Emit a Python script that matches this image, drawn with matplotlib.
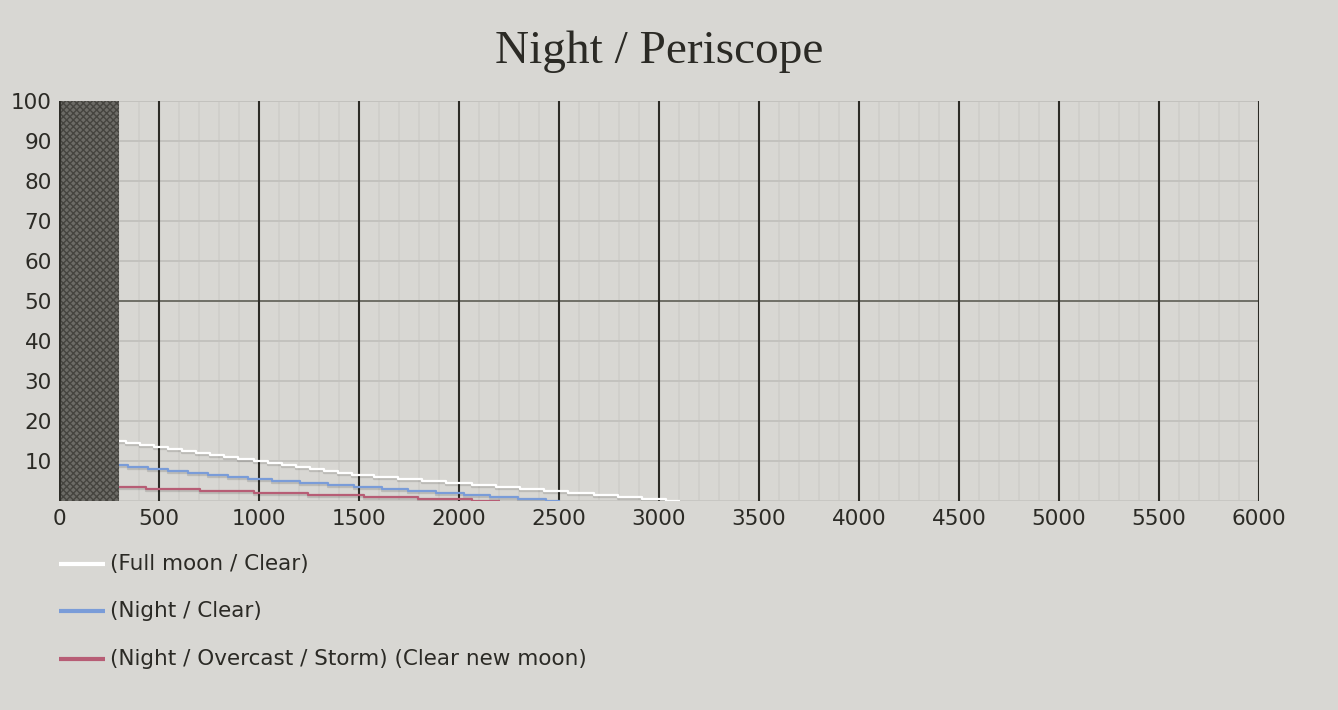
import numpy as np
import matplotlib
matplotlib.use("Agg")
import matplotlib.pyplot as plt
import matplotlib.patheffects as pe
from matplotlib.lines import Line2D
from matplotlib.patches import Rectangle

# ---- data ----
title = "Night / Periscope"
series_names = ["(Full moon / Clear)", "(Night / Clear)",
                "(Night / Overcast / Storm) (Clear new moon)"]
series_colors = ["#ffffff", "#7a9cd8", "#b75d75"]

full_x = [300, 335, 405, 475, 545, 615, 685, 755, 825, 895, 975, 1045, 1115,
          1185, 1255, 1325, 1395, 1465, 1575, 1695, 1815, 1935, 2065, 2185,
          2305, 2425, 2545, 2675, 2795, 2915, 3035, 3105]
full_y = [15, 14.5, 14, 13.5, 13, 12.5, 12, 11.5, 11, 10.5, 10, 9.5, 9, 8.5,
          8, 7.5, 7, 6.5, 6, 5.5, 5, 4.5, 4, 3.5, 3, 2.5, 2, 1.5, 1, 0.5, 0, 0]

night_x = [300, 345, 445, 545, 645, 745, 845, 945, 1065, 1205, 1345, 1475,
           1615, 1745, 1885, 2025, 2155, 2295, 2435, 2505]
night_y = [9, 8.5, 8, 7.5, 7, 6.5, 6, 5.5, 5, 4.5, 4, 3.5, 3, 2.5, 2, 1.5,
           1, 0.5, 0, 0]

storm_x = [300, 435, 705, 975, 1245, 1525, 1795, 2065, 2205]
storm_y = [3.5, 3, 2.5, 2, 1.5, 1, 0.5, 0, 0]

dead_zone = [0, 300]          # hatched minimum-range region
x_ticks = list(range(0, 6001, 500))
y_ticks = list(range(10, 101, 10))

# ---- style ----
BG = "#d8d7d3"
DARK = "#2b2a25"
W, H = 1338, 710

fig = plt.figure(figsize=(W / 100, H / 100), dpi=100, facecolor=BG)
ax = fig.add_axes([59 / W, (H - 501) / H, 1200 / W, 400 / H])
ax.set_facecolor(BG)
ax.set_xlim(0, 6000)
ax.set_ylim(0, 100)

# grid
for x in range(0, 6001, 100):
    if x % 500:
        ax.axvline(x, color="#d0cfcb", lw=1.4, zorder=1)
for y in range(10, 101, 10):
    if y != 50:
        ax.axhline(y, color="#c3c2be", lw=1.4, zorder=1)
ax.axhline(0, color="#c8c7c3", lw=1.4, zorder=1)
ax.axhline(50, color="#6f6f67", lw=1.4, zorder=2)
for x in x_ticks:
    if x > 0:
        ax.axvline(x, color=DARK, lw=1.5, zorder=2)

# dead zone (checker texture approximated by its mean tone + fine hatch)
ax.add_patch(Rectangle((dead_zone[0], 0), dead_zone[1] - dead_zone[0], 100,
                       facecolor="#6c6b66", edgecolor="#45443f", hatch="xxxxx",
                       lw=0, zorder=3))
ax.axvline(0, color=DARK, lw=2, zorder=4)

shadow = [pe.SimpleLineShadow(offset=(0, -1.4), shadow_color="black",
                              alpha=0.13), pe.Normal()]
for xs, ys, c in [(full_x, full_y, series_colors[0]),
                  (night_x, night_y, series_colors[1]),
                  (storm_x, storm_y, series_colors[2])]:
    ax.plot(xs, ys, drawstyle="steps-post", color=c, lw=1.6,
            solid_capstyle="butt", path_effects=shadow, zorder=5)

for s in ax.spines.values():
    s.set_visible(False)
ax.set_xticks(x_ticks)
ax.set_yticks(y_ticks)
ax.tick_params(length=0, labelsize=15.5, labelcolor=DARK, pad=6)
ax.tick_params(axis="y", pad=5)

# title
fig.text(659 / W, 1 - 63 / H, title, family="Liberation Serif", fontsize=34,
         color=DARK, ha="center", va="baseline")

# legend
rows = [564, 611, 659]
for name, c, ry in zip(series_names, series_colors, rows):
    yy = 1 - ry / H
    fig.add_artist(Line2D([59 / W, 105 / W], [yy, yy], color=c, lw=3,
                          solid_capstyle="butt"))
    fig.text(110 / W, yy, name, fontsize=15.5, color=DARK, ha="left",
             va="center")

fig.savefig("out.png", dpi=100, facecolor=BG)
